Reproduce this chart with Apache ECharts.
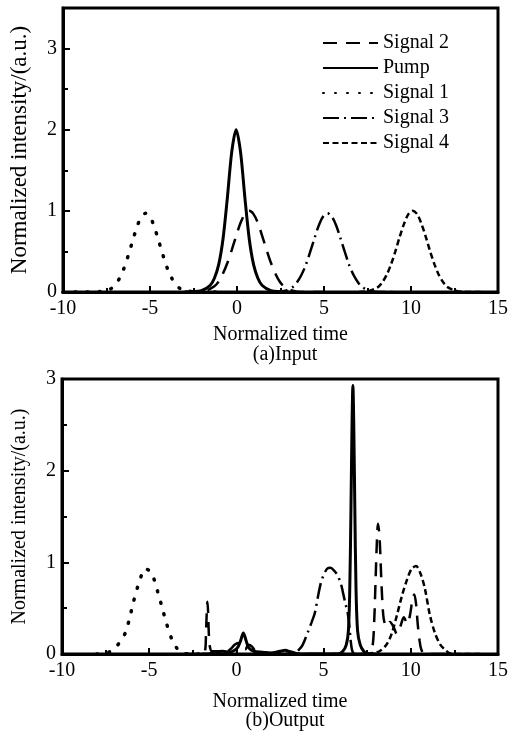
<!DOCTYPE html>
<html style="height: 100%">
<head>
<meta charset="utf-8">
<title>Input / Output pulses</title>
<script src="https://cdn.jsdelivr.net/npm/echarts@6/dist/echarts.min.js"></script>
</head>
<body style="height: 100%; margin: 0; background: #fff">
<div id="container" style="width:516px;height:736px"></div>
<script type="text/javascript">
// (a) Input pulses, [time, intensity]
var inSignal2 = [[-3,0],[-1.8,0.016],[-1.3,0.07],[-1.05,0.13],[-0.8,0.23],[-0.55,0.36],[-0.3,0.52],[-0.05,0.69],[0.2,0.85],[0.45,0.96],[0.7,1.0],[0.95,0.96],[1.2,0.85],[1.45,0.69],[1.7,0.52],[1.95,0.36],[2.2,0.23],[2.45,0.13],[2.7,0.07],[3.2,0.016],[3.7,0],[5,0]];
var inPump = [[-3,0],[-2.55,0.004],[-2.05,0.017],[-1.55,0.08],[-1.3,0.17],[-1.05,0.34],[-0.8,0.66],[-0.55,1.17],[-0.3,1.73],[-0.05,2.0],[0.2,1.73],[0.45,1.17],[0.7,0.66],[0.95,0.34],[1.2,0.17],[1.45,0.08],[1.95,0.017],[2.45,0.004],[3,0]];
var inSignal1 = [[-10,0],[-8.25,0],[-7.75,0.01],[-7.25,0.04],[-7,0.09],[-6.75,0.17],[-6.5,0.29],[-6.25,0.45],[-6,0.63],[-5.75,0.8],[-5.5,0.93],[-5.25,0.97],[-5,0.93],[-4.75,0.8],[-4.5,0.63],[-4.25,0.45],[-4,0.29],[-3.75,0.17],[-3.5,0.09],[-3.25,0.04],[-2.75,0.01],[-2.25,0],[-1,0]];
var inSignal3 = [[2,0],[2.7,0.013],[3.2,0.06],[3.45,0.12],[3.7,0.21],[3.95,0.33],[4.2,0.49],[4.45,0.66],[4.7,0.82],[4.95,0.93],[5.2,0.97],[5.45,0.93],[5.7,0.82],[5.95,0.66],[6.2,0.49],[6.45,0.33],[6.7,0.21],[6.95,0.12],[7.2,0.06],[7.7,0.013],[8.2,0],[9,0]];
var inSignal4 = [[7,0],[7.6,0.013],[8.1,0.06],[8.35,0.12],[8.6,0.21],[8.85,0.34],[9.1,0.5],[9.35,0.68],[9.6,0.84],[9.85,0.96],[10.1,1.0],[10.35,0.96],[10.6,0.84],[10.85,0.68],[11.1,0.5],[11.35,0.34],[11.6,0.21],[11.85,0.12],[12.1,0.06],[12.6,0.013],[13.1,0],[14,0]];

// (b) Output pulses
var outSignal2 = [[-3,0],[-2,0],[-1.8,0.03],[-1.74,0.25],[-1.7,0.45],[-1.66,0.57],[-1.62,0.45],[-1.58,0.22],[-1.52,0.08],[-1.4,0.03],[-1.1,0.03],[-0.8,0.02],[-0.5,0.03],[-0.3,0.06],[-0.1,0.1],[0.1,0.12],[0.3,0.07],[0.5,0.05],[0.7,0.1],[0.9,0.08],[1.1,0.03],[1.5,0.02],[2.0,0.01],[2.5,0.02],[3.0,0.03],[3.4,0.01],[3.8,0],[7.3,0],[7.6,0.02],[7.8,0.08],[7.9,0.35],[7.98,0.8],[8.05,1.2],[8.12,1.42],[8.2,1.3],[8.28,0.95],[8.36,0.6],[8.45,0.38],[8.6,0.3],[8.8,0.35],[9.0,0.3],[9.2,0.22],[9.4,0.3],[9.6,0.4],[9.8,0.33],[9.95,0.42],[10.1,0.6],[10.2,0.65],[10.3,0.55],[10.4,0.32],[10.5,0.15],[10.6,0.05],[10.8,0],[12,0]];
var outPump = [[-2,0],[-1.5,0],[-1.2,0.02],[-0.8,0.03],[-0.4,0.02],[-0.1,0.04],[0.1,0.08],[0.25,0.15],[0.4,0.23],[0.55,0.15],[0.7,0.07],[1.0,0.03],[1.5,0.02],[2.0,0.01],[2.5,0.03],[2.8,0.04],[3.1,0.02],[3.4,0],[5.8,0],[6.1,0.03],[6.3,0.1],[6.42,0.25],[6.5,0.7],[6.57,1.6],[6.63,2.5],[6.68,2.93],[6.73,2.5],[6.79,1.6],[6.86,0.7],[6.95,0.25],[7.1,0.1],[7.3,0.03],[7.5,0],[8,0]];
var outSignal1 = [[-8,0],[-7.3,0.02],[-6.9,0.08],[-6.6,0.15],[-6.35,0.24],[-6.1,0.41],[-5.9,0.57],[-5.65,0.74],[-5.4,0.88],[-5.25,0.93],[-5.0,0.91],[-4.75,0.83],[-4.5,0.67],[-4.25,0.5],[-4.0,0.33],[-3.7,0.16],[-3.4,0.06],[-3.1,0.01],[-2.5,0],[-1,0]];
var outSignal3 = [[2,0],[3.3,0],[3.6,0.05],[3.8,0.1],[4.1,0.24],[4.3,0.34],[4.5,0.45],[4.7,0.65],[4.85,0.78],[5.0,0.86],[5.2,0.93],[5.4,0.94],[5.6,0.91],[5.8,0.86],[6.0,0.76],[6.1,0.68],[6.25,0.55],[6.38,0.45],[6.48,0.3],[6.55,0.15],[6.65,0.03],[6.8,0],[7.5,0]];
var outSignal4 = [[7.5,0],[7.8,0.01],[8.2,0.03],[8.6,0.1],[8.9,0.22],[9.2,0.42],[9.5,0.64],[9.8,0.82],[10.05,0.93],[10.3,0.96],[10.55,0.88],[10.8,0.72],[11.1,0.42],[11.4,0.22],[11.7,0.1],[12.0,0.04],[12.2,0.01],[12.5,0],[14,0]];

var legendNames = ['Signal 2', 'Pump', 'Signal 1', 'Signal 3', 'Signal 4'];

var FONT = '"Liberation Serif", "Times New Roman", serif';
var styles = {
    'Signal 2': {type: [14, 9], width: 2.5},
    'Pump':     {type: 'solid', width: 3},
    'Signal 1': {type: [1, 11], width: 3.5, cap: 'round'},
    'Signal 3': {type: [16, 5, 2, 5], width: 2.5},
    'Signal 4': {type: [6, 3.5], width: 2.5}
};

function xAx(idx, gap) {
    return {
        type: 'value', gridIndex: idx, min: -10, max: 15, interval: 5,
        name: 'Normalized time', nameLocation: 'middle', nameGap: gap,
        nameTextStyle: {fontFamily: FONT, fontSize: 20, color: '#000'},
        axisLine: {show: true, onZero: false, lineStyle: {color: '#000', width: 3}},
        axisTick: {show: true, inside: true, length: 6, lineStyle: {color: '#000', width: 2}},
        minorTick: {show: true, splitNumber: 2, length: 4, lineStyle: {color: '#000', width: 2}},
        axisLabel: {fontFamily: FONT, fontSize: 20, color: '#000', margin: 7},
        splitLine: {show: false}
    };
}
function yAx(idx, max) {
    return {
        type: 'value', gridIndex: idx, min: 0, max: max, interval: 1,
        name: 'Normalized intensity/(a.u.)', nameLocation: 'middle', nameGap: 32,
        nameTextStyle: {fontFamily: FONT, fontSize: idx === 0 ? 23 : 20, color: '#000'},
        axisLine: {show: true, onZero: false, lineStyle: {color: '#000', width: 3}},
        axisTick: {show: true, inside: true, length: 7, lineStyle: {color: '#000', width: 2}},
        minorTick: {show: true, splitNumber: 2, length: 5, lineStyle: {color: '#000', width: 2}},
        axisLabel: {fontFamily: FONT, fontSize: 20, color: '#000', margin: 6, showMaxLabel: max % 1 === 0},
        splitLine: {show: false}
    };
}
function line(name, data, idx) {
    var s = styles[name];
    return {
        name: name, type: 'line', xAxisIndex: idx, yAxisIndex: idx,
        data: data, smooth: 0.3, symbol: 'none', animation: false,
        lineStyle: {color: '#000', width: s.width, type: s.type, cap: s.cap || 'butt'},
        itemStyle: {color: '#000'}
    };
}

var myChart = echarts.init(document.getElementById('container'));
var option = {
    backgroundColor: '#fff',
    animation: false,
    title: [
        {text: '(a)Input', left: 280, top: 340, textAlign: 'center',
         textStyle: {fontFamily: FONT, fontSize: 20, fontWeight: 'normal', color: '#000'}},
        {text: '(b)Output', left: 280, top: 706, textAlign: 'center',
         textStyle: {fontFamily: FONT, fontSize: 20, fontWeight: 'normal', color: '#000'}}
    ],
    legend: {
        data: legendNames, orient: 'vertical', left: 317, top: 28,
        itemWidth: 55, itemHeight: 14, itemGap: 5,
        itemStyle: {opacity: 0},
        textStyle: {fontFamily: FONT, fontSize: 20, color: '#000', lineHeight: 20}
    },
    grid: [
        {left: 62, top: 8, width: 436, height: 284, show: true, borderColor: '#000', borderWidth: 3},
        {left: 62, top: 379, width: 436, height: 275, show: true, borderColor: '#000', borderWidth: 3}
    ],
    xAxis: [xAx(0, 33), xAx(1, 38)],
    yAxis: [yAx(0, 3.5), yAx(1, 3)],
    series: [
        line('Signal 2', inSignal2, 0),
        line('Signal 1', inSignal1, 0),
        line('Signal 3', inSignal3, 0),
        line('Signal 4', inSignal4, 0),
        line('Pump', inPump, 0),
        line('Signal 2', outSignal2, 1),
        line('Signal 1', outSignal1, 1),
        line('Signal 3', outSignal3, 1),
        line('Signal 4', outSignal4, 1),
        line('Pump', outPump, 1)
    ]
};
myChart.setOption(option);
</script>
</body>
</html>
